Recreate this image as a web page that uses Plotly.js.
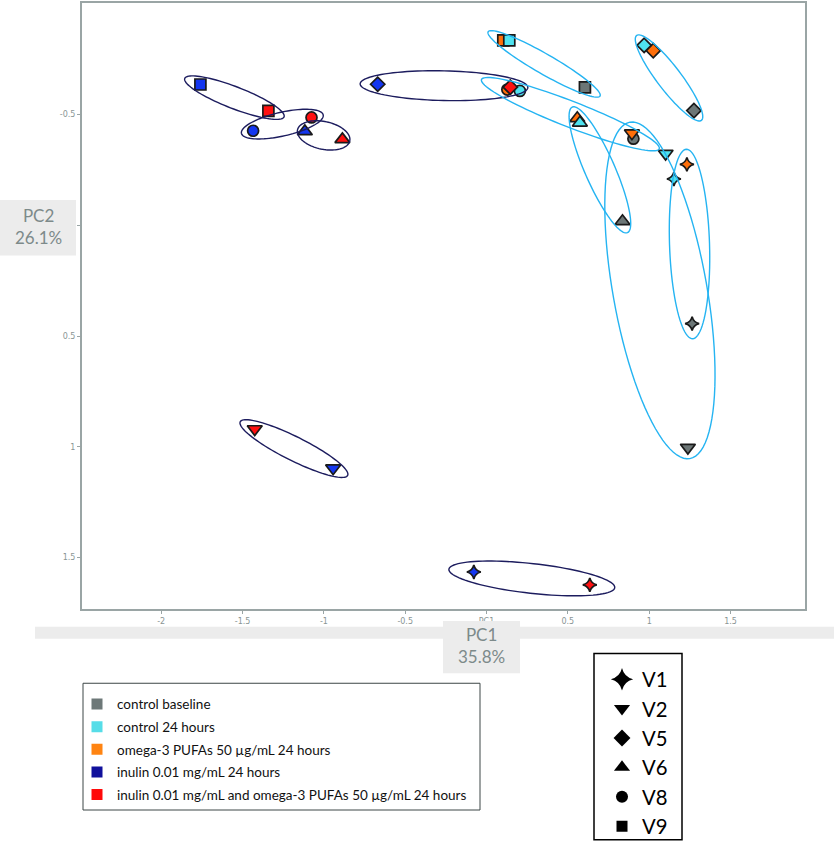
<!DOCTYPE html>
<html>
<head>
<meta charset="utf-8">
<script src="https://cdn.plot.ly/plotly-3.0.1.min.js"></script>
<style>html,body{margin:0;padding:0;background:#fff;}#chart{width:834px;height:849px;}</style>
</head>
<body>
<div id="chart"></div>
<script>
// ---------------- data ----------------
const visits = ['V1', 'V2', 'V5', 'V6', 'V8', 'V9'];
const groupNames = [
  'control baseline',
  'control 24 hours',
  'omega-3 PUFAs 50 \u00b5g/mL 24 hours',
  'inulin 0.01 mg/mL 24 hours',
  'inulin 0.01 mg/mL and omega-3 PUFAs 50 \u00b5g/mL 24 hours'
];
// PC1 / PC2 scores, one value per visit (order of `visits`)
const pc1ControlBaseline = [1.264, 1.238, 1.275, 0.836, 0.903, 0.605];
const pc2ControlBaseline = [0.444, 1.004, -0.518, -0.018, -0.391, -0.623];
const pc1Control24h = [1.152, 1.101, 0.969, 0.574, 0.205, 0.140];
const pc2Control24h = [-0.209, -0.324, -0.813, -0.463, -0.607, -0.835];
const pc1Omega3 = [1.232, 0.894, 1.025, 0.558, 0.128, 0.103];
const pc2Omega3 = [-0.275, -0.416, -0.789, -0.483, -0.613, -0.835];
const pc1Inulin = [-0.078, -0.943, -0.669, -1.117, -1.435, -1.759];
const pc2Inulin = [1.566, 1.097, -0.637, -0.424, -0.427, -0.636];
const pc1InulinOmega3 = [0.635, -1.425, 0.146, -0.886, -1.076, -1.341];
const pc2InulinOmega3 = [1.624, 0.920, -0.624, -0.388, -0.487, -0.517];
const xTickVals = [-2, -1.5, -1, -0.5, 0, 0.5, 1, 1.5];
const xTickText = ['-2', '-1.5', '-1', '-0.5', 'PC1', '0.5', '1', '1.5'];
const yTickVals = [-0.5, 0, 0.5, 1, 1.5];
const yTickText = ['-0.5', '?', '0.5', '1', '1.5'];
const pc1Title = 'PC1<br>35.8%';
const pc2Title = 'PC2<br>26.1%';

// ---------------- styles ----------------
const groupPc1 = [pc1ControlBaseline, pc1Control24h, pc1Omega3, pc1Inulin, pc1InulinOmega3];
const groupPc2 = [pc2ControlBaseline, pc2Control24h, pc2Omega3, pc2Inulin, pc2InulinOmega3];
const pointColors = ['#6c7676', '#4fe3ef', '#ff6f0a', '#1436f0', '#ff1010'];
const legendColors = ['#6d7878', '#56dde8', '#ff8412', '#10109c', '#ff0a0a'];
const symbolMap = {V1: 'star-diamond', V2: 'triangle-down', V5: 'diamond', V6: 'triangle-up', V8: 'circle', V9: 'square'};
const sizeMap = {V1: 10, V2: 13, V5: 11, V6: 13, V8: 11, V9: 11};
const legendSizeMap = {V1: 16, V2: 14, V5: 13, V6: 14, V8: 12, V9: 11};
const drawOrder = [0, 2, 1, 3, 4];

const W = 834, H = 849;
const M = {l: 82, r: 29, t: 3, b: 234};
const xRange = [-2.487, 1.958];
const yRange = [1.733, -1.004]; // reversed axis
const plotW = W - M.l - M.r, plotH = H - M.t - M.b;
const kx = plotW / (xRange[1] - xRange[0]);
const ky = plotH / Math.abs(yRange[0] - yRange[1]);
const px2x = p => (p - M.l) / plotW;
const px2y = p => (H - M.b - p) / plotH;

const NAVY = '#1c1c5e', SKY = '#25b4f2';
// ellipses drawn around the same visit across groups
const ellipses = [
  {groups: [3, 4], visit: 'V9', stretch: 1.46, minor: 11, color: NAVY},
  {groups: [3, 4], visit: 'V8', stretch: 1.40, minor: 12, color: NAVY},
  {groups: [3, 4], visit: 'V6', stretch: 1.39, minor: 14, color: NAVY},
  {groups: [3, 4], visit: 'V5', stretch: 1.265, minor: 15, color: NAVY},
  {groups: [3, 4], visit: 'V2', stretch: 1.37, minor: 12, color: NAVY},
  {groups: [3, 4], visit: 'V1', stretch: 1.43, minor: 15, color: NAVY},
  {groups: [0, 1, 2], visit: 'V9', stretch: 1.37, minor: 10, color: SKY},
  {groups: [0, 1, 2], visit: 'V5', stretch: 1.30, minor: 12, color: SKY},
  {groups: [0, 1, 2], visit: 'V8', stretch: 1.41, minor: 13, color: SKY},
  {groups: [0, 1, 2], visit: 'V6', stretch: 1.22, minor: 15, color: SKY},
  {groups: [0, 1, 2], visit: 'V2', stretch: 1.07, minor: 47, color: SKY},
  {groups: [0, 1, 2], visit: 'V1', stretch: 1.19, minor: 20, color: SKY}
];

function ellipseShape(e) {
  const vi = visits.indexOf(e.visit);
  const pts = e.groups.map(g => [groupPc1[g][vi] * kx, groupPc2[g][vi] * ky]);
  let best = null, bestD = -1;
  for (let i = 0; i < pts.length; i++)
    for (let j = i + 1; j < pts.length; j++) {
      const d = Math.hypot(pts[j][0] - pts[i][0], pts[j][1] - pts[i][1]);
      if (d > bestD) { bestD = d; best = [pts[i], pts[j]]; }
    }
  const [p, q] = best;
  const cx = (p[0] + q[0]) / 2, cy = (p[1] + q[1]) / 2;
  const ux = (q[0] - p[0]) / bestD, uy = (q[1] - p[1]) / bestD;
  const a = bestD / 2 * e.stretch, b = e.minor;
  let d = '';
  for (let i = 0; i <= 96; i++) {
    const t = 2 * Math.PI * i / 96;
    const ex = a * Math.cos(t), ey = b * Math.sin(t);
    const sx = cx + ex * ux - ey * uy, sy = cy + ex * uy + ey * ux;
    d += (i ? 'L' : 'M') + (sx / kx).toFixed(5) + ',' + (sy / ky).toFixed(5);
  }
  d += 'Z';
  return {type: 'path', xref: 'x', yref: 'y', path: d, line: {color: e.color, width: 1.4}, layer: 'above'};
}

// ---------------- traces ----------------
const traces = [];
drawOrder.forEach(g => {
  traces.push({
    type: 'scatter', mode: 'markers', x: groupPc1[g], y: groupPc2[g], name: groupNames[g],
    text: visits, showlegend: false, cliponaxis: false,
    marker: {color: pointColors[g], opacity: 1, symbol: visits.map(v => symbolMap[v]), size: visits.map(v => sizeMap[v]),
             line: {color: '#1a1a1a', width: 1.7}}
  });
});
groupNames.forEach((n, g) => {
  traces.push({type: 'scatter', mode: 'markers', x: [null], y: [null], name: n, legend: 'legend',
    legendgroup: 'g' + g, showlegend: true,
    marker: {color: legendColors[g], symbol: 'square', size: 11, opacity: 1, line: {width: 0}}});
});
visits.forEach(v => {
  traces.push({type: 'scatter', mode: 'markers', x: [null], y: [null], name: v, legend: 'legend2',
    legendgroup: 'v' + v, showlegend: true,
    marker: {color: '#000', symbol: symbolMap[v], size: legendSizeMap[v], opacity: 1, line: {width: 0}}});
});

// ---------------- layout ----------------
const shapes = [];
ellipses.forEach(e => shapes.push(ellipseShape(e)));
// grey band and axis-title boxes
shapes.push({type: 'rect', xref: 'paper', yref: 'paper', x0: px2x(35), x1: px2x(834), y0: px2y(633), y1: px2y(645),
  fillcolor: '#ececec', line: {width: 0}, layer: 'above'});
shapes.push({type: 'rect', xref: 'paper', yref: 'paper', x0: px2x(443), x1: px2x(520), y0: px2y(627), y1: px2y(680),
  fillcolor: '#ececec', line: {width: 0}, layer: 'above'});
shapes.push({type: 'rect', xref: 'paper', yref: 'paper', x0: px2x(0), x1: px2x(76), y0: px2y(202), y1: px2y(258),
  fillcolor: '#ececec', line: {width: 0}, layer: 'above'});
// legend frames
shapes.push({type: 'rect', xref: 'paper', yref: 'paper', x0: px2x(83), x1: px2x(480), y0: px2y(690), y1: px2y(818),
  fillcolor: 'rgba(0,0,0,0)', line: {color: '#3c4646', width: 1}});
shapes.push({type: 'rect', xref: 'paper', yref: 'paper', x0: px2x(594), x1: px2x(682), y0: px2y(660), y1: px2y(848),
  fillcolor: 'rgba(0,0,0,0)', line: {color: '#000', width: 1.5}});

const titleFont = {family: 'Lato, "Open Sans", sans-serif', size: 17, color: '#7d8a8a'};
const layout = {
  width: W, height: H, margin: {l: M.l, r: M.r, t: M.t, b: M.b, pad: 0},
  paper_bgcolor: '#fff', plot_bgcolor: '#fff', showlegend: true,
  font: {family: 'Lato, sans-serif'},
  xaxis: {range: xRange, autorange: false, tickvals: xTickVals, ticktext: xTickText, showgrid: false, zeroline: false,
    showline: true, mirror: true, linecolor: '#9aa5a5', linewidth: 2, ticks: 'outside', ticklen: 3, tickcolor: '#9aa5a5',
    tickfont: {family: 'DejaVu Sans', size: 8, color: '#8a9595'}},
  yaxis: {range: yRange, autorange: false, tickvals: yTickVals, ticktext: yTickText, showgrid: false, zeroline: false,
    showline: true, mirror: true, linecolor: '#9aa5a5', linewidth: 2, ticks: 'outside', ticklen: 3, tickcolor: '#9aa5a5',
    tickfont: {family: 'DejaVu Sans', size: 8, color: '#8a9595'}},
  shapes: shapes,
  annotations: [
    {xref: 'paper', yref: 'paper', x: px2x(481.5), y: px2y(652), text: pc1Title, showarrow: false,
     xanchor: 'center', yanchor: 'middle', font: titleFont, align: 'center'},
    {xref: 'paper', yref: 'paper', x: px2x(38), y: px2y(229), text: pc2Title, showarrow: false,
     xanchor: 'center', yanchor: 'middle', font: titleFont, align: 'center'}
  ],
  legend: {x: px2x(77), y: px2y(695.5), xanchor: 'left', yanchor: 'top', bgcolor: 'rgba(0,0,0,0)', borderwidth: 0,
    font: {family: 'Lato, sans-serif', size: 13.5, color: '#111'}, itemwidth: 30, traceorder: 'grouped', tracegroupgap: 2.1,
    itemclick: false, itemdoubleclick: false},
  legend2: {x: px2x(602), y: px2y(666), xanchor: 'left', yanchor: 'top', bgcolor: 'rgba(0,0,0,0)', borderwidth: 0,
    font: {family: 'Lato, sans-serif', size: 20.3, color: '#000'}, itemwidth: 30, traceorder: 'grouped', tracegroupgap: 0,
    itemclick: false, itemdoubleclick: false}
};

Plotly.newPlot('chart', traces, layout, {displayModeBar: false, staticPlot: true});
</script>
</body>
</html>
